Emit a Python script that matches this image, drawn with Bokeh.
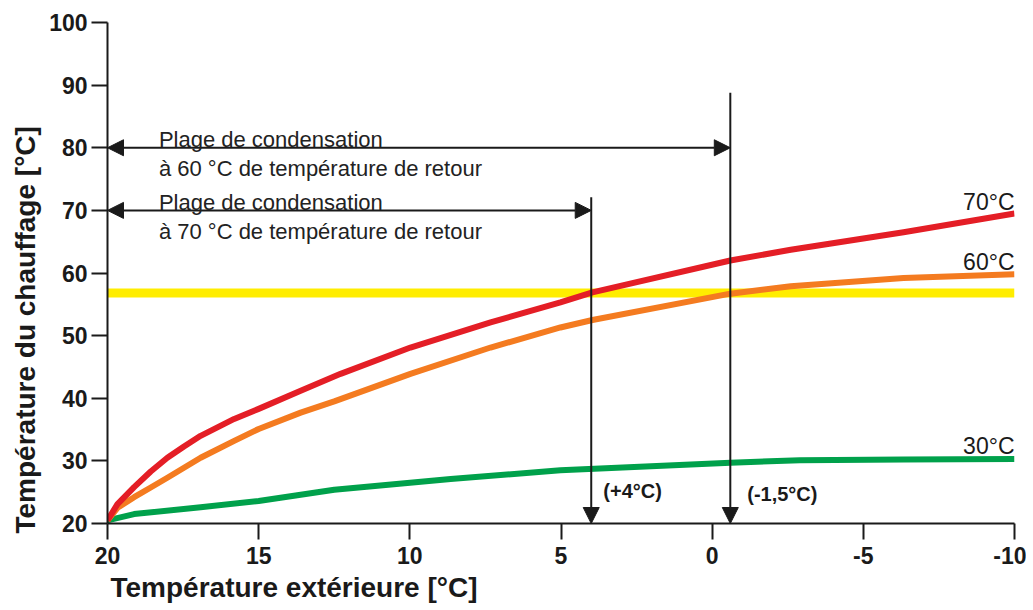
from bokeh.plotting import figure
from bokeh.models import Range1d, FixedTicker, Span, Arrow, NormalHead, Label, Title
from bokeh.embed import file_html
from bokeh.resources import INLINE

# ---- data ----
x_70 = [20, 19.67, 19.12, 18.57, 18.02, 17.47, 16.92, 15.81, 15, 13.61, 12.29, 9.98, 7.33, 5.02, 3.96, -0.6, -2.6, -6.33, -10]
supply_70 = [20.5, 23.1, 25.8, 28.3, 30.5, 32.3, 34.0, 36.7, 38.3, 41.2, 43.9, 48.1, 52.1, 55.3, 56.9, 62.0, 63.7, 66.5, 69.5]
x_60 = [20, 19.67, 19.12, 18.57, 18.02, 17.47, 16.92, 15.81, 15, 13.61, 12.5, 9.98, 7.33, 5.02, 3.96, -0.6, -2.6, -6.33, -10]
supply_60 = [20.5, 22.5, 24.2, 25.75, 27.3, 28.9, 30.5, 33.2, 35.1, 37.7, 39.5, 43.9, 48.1, 51.3, 52.5, 56.7, 57.9, 59.2, 59.8]
x_30 = [20, 19.12, 16.92, 15, 12.5, 8.65, 5.02, -0.6, -2.9, -6.33, -10]
supply_30 = [20.5, 21.5, 22.6, 23.6, 25.4, 27.1, 28.5, 29.7, 30.1, 30.2, 30.3]
curve_labels = ["70°C", "60°C", "30°C"]
return_limit = 56.8            # yellow line
limit_70_x = 4.0               # (+4°C)
limit_60_x = -0.6              # (-1,5°C) as drawn
x_ticks = [20, 15, 10, 5, 0, -5, -10]
x_tick_labels = ["20", "15", "10", "5", "0", "-5", "-10"]
y_ticks = [20, 30, 40, 50, 60, 70, 80, 90, 100]

RED = "#e41e26"
ORANGE = "#f47b20"
GREEN = "#00a14b"
YELLOW = "#ffed00"
INK = "#1a1a1a"
FONT = "Liberation Sans"

p = figure(width=1026, height=606, output_backend="svg", toolbar_location=None,
           x_range=Range1d(20, -10), y_range=Range1d(20, 100),
           min_border_left=107, min_border_right=12, min_border_top=22, min_border_bottom=83)
p.outline_line_color = None
p.xgrid.visible = False
p.ygrid.visible = False

for ax, ticks in ((p.xaxis, x_ticks), (p.yaxis, y_ticks)):
    ax.ticker = FixedTicker(ticks=ticks)
    ax.minor_tick_line_color = None
    ax.major_tick_in = 0
    ax.major_tick_out = 16
    ax.major_tick_line_width = 2
    ax.major_tick_line_color = INK
    ax.axis_line_width = 2
    ax.axis_line_color = INK
    ax.major_label_text_font = FONT
    ax.major_label_text_font_style = "bold"
    ax.major_label_text_font_size = "23px"
    ax.major_label_text_color = INK
p.xaxis.major_label_overrides = {t: s for t, s in zip(x_ticks, x_tick_labels)}
p.xaxis.major_label_standoff = 7
p.yaxis.major_label_standoff = 4

# axis titles
p.add_layout(Title(text="Température extérieure [°C]", align="left", offset=3, standoff=7,
                   text_font=FONT, text_font_style="bold", text_font_size="28px",
                   text_color=INK), "below")
p.add_layout(Title(text="Température du chauffage [°C]", align="left", offset=-10, standoff=11,
                   text_font=FONT, text_font_style="bold", text_font_size="28px",
                   text_color=INK), "left")

# yellow return-temperature line
p.add_layout(Span(location=return_limit, dimension="width", line_color=YELLOW,
                  line_width=9, level="underlay"))

# heating curves
p.line(x_30, supply_30, line_color=GREEN, line_width=6, line_join="round")
p.line(x_60, supply_60, line_color=ORANGE, line_width=6, line_join="round")
p.line(x_70, supply_70, line_color=RED, line_width=6, line_join="round")

# curve labels
for txt, yy in zip(curve_labels, [71.3, 61.7, 32.4]):
    p.add_layout(Label(x=-10, y=yy, text=txt, text_align="right", text_baseline="alphabetic",
                       text_font=FONT, text_font_size="23px", text_color=INK))

def head():
    return NormalHead(size=16, fill_color=INK, line_color=INK, line_width=1)

# horizontal range arrows
for xe, yy in ((limit_60_x, 80), (limit_70_x, 70)):
    p.add_layout(Arrow(start=head(), end=head(), x_start=xe, y_start=yy, x_end=20, y_end=yy,
                       line_color=INK, line_width=2))

# vertical arrows
for xe, ytop in ((limit_70_x, 72.1), (limit_60_x, 88.8)):
    p.add_layout(Arrow(end=head(), x_start=xe, y_start=ytop, x_end=xe, y_end=20,
                       line_color=INK, line_width=2))

# range texts
for yy, t2 in ((80, "à 60 °C de température de retour"), (70, "à 70 °C de température de retour")):
    p.add_layout(Label(x=18.3, y=yy + 1.28, text="Plage de condensation", text_baseline="alphabetic",
                       text_font=FONT, text_font_size="22px", text_color="#222222"))
    p.add_layout(Label(x=18.3, y=yy - 3.3, text=t2, text_baseline="alphabetic",
                       text_font=FONT, text_font_size="22px", text_color="#222222"))

p.add_layout(Label(x=3.6, y=25.2, text="(+4°C)", text_baseline="middle", text_font=FONT,
                   text_font_style="bold", text_font_size="20px", text_color=INK))
p.add_layout(Label(x=-1.16, y=24.75, text="(-1,5°C)", text_baseline="middle", text_font=FONT,
                   text_font_style="bold", text_font_size="20px", text_color=INK))

open("out.html", "w").write(file_html(p, INLINE))
